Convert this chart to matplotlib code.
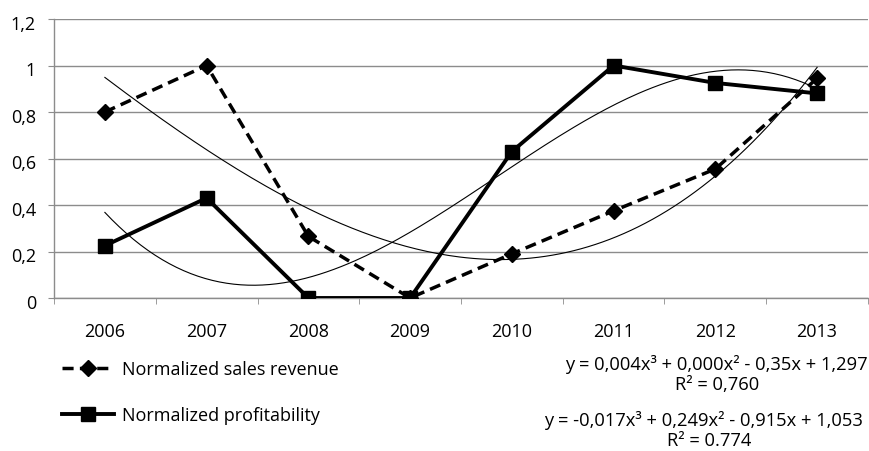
import numpy as np
import matplotlib
matplotlib.use("Agg")
import matplotlib.pyplot as plt
import matplotlib.transforms as mtransforms
from matplotlib.lines import Line2D

plt.rcParams['font.family'] = ['Open Sans', 'DejaVu Sans']

years = ["2006", "2007", "2008", "2009", "2010", "2011", "2012", "2013"]
sales = [0.80, 1.00, 0.265, 0.0, 0.19, 0.375, 0.555, 0.945]
profit = [0.225, 0.43, 0.0, 0.0, 0.63, 1.00, 0.925, 0.88]
yticks = [0, 0.2, 0.4, 0.6, 0.8, 1.0, 1.2]
ytick_labels = ["0", "0,2", "0,4", "0,6", "0,8", "1", "1,2"]
eq_sales = "y = 0,004x³ + 0,000x² - 0,35x + 1,297"
r2_sales = "R² = 0,760"
eq_profit = "y = -0,017x³ + 0,249x² - 0,915x + 1,053"
r2_profit = "R² = 0.774"
label_sales = "Normalized sales revenue"
label_profit = "Normalized profitability"

FS = 13

fig = plt.figure(figsize=(8.7, 4.52), dpi=100)
ax = fig.add_axes([54/870, 1-299/452, (868-54)/870, (299-20)/452])

x = np.arange(1, len(years) + 1)
grid_c = "#8c8c8c"

# trendlines (cubic fits)
xs = np.linspace(1, len(years), 200)
for series in (sales, profit):
    c = np.polyfit(x, series, 3)
    ax.plot(xs, np.polyval(c, xs), color="black", lw=0.8, zorder=2)

ax.plot(x, sales, color="black", lw=2.5, ls=(0, (3.2, 1.8)), marker="D",
        ms=8, zorder=3)
ax.plot(x, profit, color="black", lw=2.8, ls="-", marker="s", ms=10.5, zorder=4)

ax.set_xlim(0.5, len(years) + 0.5)
ax.set_ylim(0, 1.2)
ax.set_yticks(yticks)
ax.set_yticklabels(ytick_labels)
ax.set_xticks(x)
ax.set_xticklabels(years)
ax.set_xticks(np.arange(0.5, len(years) + 1, 1), minor=True)
ax.tick_params(axis="x", which="major", length=0, pad=17, labelsize=FS)
ax.tick_params(axis="x", which="minor", length=4, color=grid_c, direction="out")
ax.tick_params(axis="y", length=4, color=grid_c, pad=9, labelsize=FS)
off = mtransforms.ScaledTranslation(0, -3/100, fig.dpi_scale_trans)
for lab in ax.get_yticklabels():
    lab.set_transform(lab.get_transform() + off)
ax.yaxis.grid(True, color=grid_c, lw=1)
ax.set_axisbelow(True)
for s in ("top", "right"):
    ax.spines[s].set_visible(False)
for s in ("left", "bottom"):
    ax.spines[s].set_color(grid_c)
    ax.spines[s].set_linewidth(1)

# legend (manual below plot)
h1 = Line2D([], [], color="black", lw=2.5, ls=(0, (3.2, 1.8)), marker="D", ms=8)
h2 = Line2D([], [], color="black", lw=2.8, marker="s", ms=10.5)
fig.legend([h1, h2], [label_sales, label_profit], loc="upper left",
           bbox_to_anchor=(62/870, 1-361/452), frameon=False, fontsize=FS,
           handlelength=2.9, labelspacing=1.55, handletextpad=0.4,
           borderpad=0, borderaxespad=0)

for txt, cx, yy in ((eq_sales, 716, 365), (r2_sales, 717, 385),
                    (eq_profit, 703, 421), (r2_profit, 709, 441)):
    fig.text(cx/870, 1-yy/452, txt, ha="center", va="center", fontsize=13.2)

fig.savefig("out.png", dpi=100)
